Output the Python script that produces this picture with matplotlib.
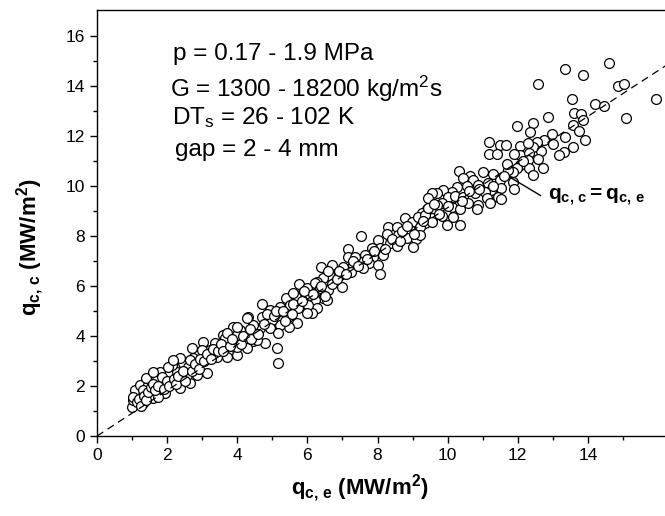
import matplotlib
matplotlib.use('Agg')
import matplotlib.pyplot as plt

plt.rcParams['font.family'] = ['Liberation Sans', 'DejaVu Sans']
plt.rcParams['mathtext.fontset'] = 'custom'
plt.rcParams['mathtext.rm'] = 'Liberation Sans'
plt.rcParams['mathtext.bf'] = 'Liberation Sans:bold'
plt.rcParams['mathtext.it'] = 'Liberation Sans:italic'

q_ce = [
    14.60, 13.35, 13.85, 12.57, 14.86, 15.04, 15.93, 13.54, 14.20, 14.46,
    15.10, 12.87, 13.61, 13.79, 13.85, 12.44, 13.58, 13.74, 12.98, 13.35,
    13.92, 12.76, 12.99, 13.58, 13.32, 13.18, 12.66, 12.54, 12.42, 12.58,
    12.35, 11.99, 12.71,
    11.18, 11.49, 11.66, 11.18, 11.42, 12.06, 12.30, 12.06, 12.32, 12.30,
    12.06, 12.33, 12.44, 11.99, 11.85, 11.73, 10.33, 10.64, 11.02, 11.28,
    10.45, 10.73, 11.49, 11.14, 10.87, 11.85, 11.90, 11.52, 11.23, 11.06,
    10.54, 10.26, 10.11, 9.86, 9.69, 9.54, 10.78, 11.44, 11.52, 10.02,
    10.21, 10.45, 11.11, 10.59, 10.87, 11.21, 9.83, 10.11, 10.35, 9.64,
    9.40, 9.26, 9.54, 9.83, 10.14, 10.35, 9.97, 9.35, 10.83,
    7.52, 8.31, 8.56, 8.78, 8.97, 9.16, 9.35, 9.45, 9.69, 9.54,
    9.21, 8.92, 8.59, 8.28, 8.35, 8.55, 8.83, 9.10, 9.00, 8.02,
    8.07, 7.83, 8.15, 7.86, 7.64, 7.55, 7.76, 8.02, 8.07, 7.17,
    7.17, 7.36, 7.29, 7.02, 7.23, 7.59, 6.69, 6.38, 6.93, 6.64,
    6.45, 6.26, 6.79, 6.98, 6.60, 6.31, 6.45, 6.22, 6.26, 6.12,
    9.21, 9.45,
    6.60, 5.77, 5.98, 6.22, 6.36, 6.07, 5.79, 6.57, 6.03, 5.39,
    5.67, 5.22, 5.50, 5.74, 5.98, 5.46, 5.71, 5.48, 5.22, 4.70,
    4.93, 4.70, 4.31, 4.98, 4.93, 5.17, 4.65, 4.46, 4.36, 4.08,
    3.89, 4.22, 4.46, 4.79, 5.12, 5.17, 3.98, 3.74, 3.60, 3.36,
    3.51, 3.74, 3.98, 3.22, 3.03, 3.08, 3.13,
    1.01, 1.04, 1.32, 1.13, 1.27, 1.08, 1.23, 1.46, 1.32, 1.51,
    1.61, 1.41, 1.70, 1.89, 1.94, 2.13, 2.37, 2.03, 2.27, 2.13,
    1.80, 1.61, 2.46, 2.60, 2.65, 2.56, 2.84, 2.37, 2.75, 2.98,
    2.70, 3.41, 3.65,
    1.04, 1.75, 2.03, 2.18, 2.65, 3.70, 3.98, 3.70, 3.98, 4.27,
    4.55, 4.27, 5.60,
    1.15, 1.20, 1.25, 1.35, 1.40, 1.45, 1.55, 1.60, 1.65, 1.75,
    1.85, 1.90, 2.00, 2.05, 2.20, 2.25, 2.30, 2.45, 2.50, 2.70,
    2.80, 2.90, 2.95, 3.05, 3.15, 3.25, 3.30, 3.45, 3.55, 3.60,
    3.80, 3.85, 4.10, 4.15, 4.35, 4.40, 4.60, 4.75, 4.85, 5.05,
    5.10, 5.30, 5.35, 5.55, 5.60, 5.85, 5.90, 6.15, 6.40, 6.50,
    6.70, 6.85, 6.90, 7.10, 7.30, 7.45, 7.70, 7.90, 8.20, 8.40,
    8.65, 8.70, 8.85, 9.05, 9.30, 9.60, 9.75, 10.00, 10.40, 10.60,
    10.90, 11.30, 11.60, 11.70, 12.15, 11.90,
]

# calculated heat flux q_c,c (MW/m2), same order as q_ce
q_cc = [
    14.93, 14.67, 14.44, 14.08, 14.00, 14.08, 13.47, 13.47, 13.28, 13.20,
    12.73, 12.75, 12.93, 12.89, 12.63, 12.53, 12.45, 12.19, 12.07, 11.97,
    11.83, 11.83, 11.69, 11.55, 11.37, 11.23, 11.41, 11.77, 11.57, 11.08,
    12.17, 12.40, 10.71,
    11.75, 11.64, 11.64, 11.28, 11.28, 11.60, 11.71, 11.24, 11.31, 11.04,
    10.84, 10.71, 10.44, 10.71, 10.57, 10.64, 10.60, 10.40, 10.57, 10.48,
    10.31, 10.24, 10.24, 10.11, 10.04, 10.15, 9.88, 9.91, 9.84, 9.77,
    10.00, 9.95, 9.77, 9.84, 9.71, 9.71, 9.71, 9.57, 9.47, 9.55,
    9.60, 9.57, 9.51, 9.31, 9.24, 9.31, 9.31, 9.17, 9.07, 9.04,
    9.07, 8.91, 8.71, 8.80, 8.77, 8.44, 8.44, 8.51, 9.08,
    8.00, 8.37, 8.37, 8.71, 8.55, 8.77, 8.84, 9.11, 9.24, 8.57,
    8.37, 8.24, 8.04, 8.07, 7.71, 7.61, 7.91, 7.88, 7.55, 7.84,
    7.51, 7.51, 7.24, 7.17, 7.24, 6.97, 6.91, 6.84, 6.47, 7.47,
    7.17, 7.17, 6.84, 6.77, 6.57, 6.71, 6.84, 6.77, 6.44, 6.41,
    6.31, 6.17, 6.17, 5.97, 5.84, 5.84, 5.51, 5.44, 5.11, 4.91,
    8.04, 9.51,
    6.60, 6.07, 5.91, 6.11, 5.91, 5.64, 5.64, 5.44, 5.24, 5.51,
    5.55, 5.17, 5.24, 5.11, 4.91, 4.77, 4.51, 4.37, 4.44, 5.27,
    5.04, 4.77, 4.77, 4.64, 4.31, 4.11, 4.31, 4.44, 4.11, 4.24,
    4.37, 3.84, 3.80, 3.71, 3.51, 2.93, 4.04, 3.77, 4.04, 3.71,
    3.51, 3.31, 3.24, 3.44, 3.77, 3.24, 2.51,
    1.17, 1.44, 1.31, 1.64, 1.71, 1.84, 2.04, 2.04, 1.84, 1.77,
    1.51, 2.31, 2.24, 2.04, 1.71, 2.11, 1.91, 2.51, 2.57, 2.84,
    2.57, 2.57, 2.91, 2.77, 2.11, 2.44, 2.44, 3.11, 3.11, 3.44,
    3.51, 3.17, 3.91,
    1.57, 1.57, 2.77, 3.04, 3.04, 4.11, 4.37, 3.17, 3.57, 3.51,
    3.84, 4.71, 5.71,
    1.35, 1.50, 1.20, 1.60, 1.45, 1.75, 1.95, 2.10, 1.85, 2.00,
    2.35, 1.90, 2.20, 2.00, 2.30, 2.10, 2.40, 2.60, 2.20, 2.60,
    2.90, 2.70, 3.10, 3.00, 3.30, 3.10, 3.50, 3.40, 3.70, 3.40,
    3.60, 3.90, 3.70, 4.00, 4.30, 3.90, 4.10, 4.50, 4.90, 4.80,
    5.00, 5.00, 4.60, 4.90, 5.30, 5.40, 5.80, 5.70, 6.00, 5.60,
    6.10, 6.30, 6.60, 6.50, 7.00, 6.80, 7.10, 7.40, 7.50, 7.90,
    7.80, 8.20, 8.40, 8.10, 8.60, 9.30, 8.90, 9.20, 9.40, 9.80,
    9.90, 10.00, 10.40, 10.90, 11.00, 11.30,
]

# reference line as drawn in the figure
ref_x = [0.0, 16.5]
ref_y = [0.0, 15.07]

x_ticks = [0, 2, 4, 6, 8, 10, 12, 14]
y_ticks = [0, 2, 4, 6, 8, 10, 12, 14, 16]

fig = plt.figure(figsize=(6.65, 5.16), dpi=100)
ax = fig.add_axes([0.1459, 0.155, 0.870, 0.8256])

ax.scatter(q_ce, q_cc, s=50, facecolors='white', edgecolors='black',
           linewidths=0.9, zorder=2)
ax.plot(ref_x, ref_y, color='black', lw=0.9, dashes=(6, 4), zorder=3)

ax.set_xlim(0, 16.5)
ax.set_ylim(0, 17.04)
ax.set_xticks(x_ticks)
ax.set_yticks(y_ticks)
ax.set_xticks(range(1, 16, 2), minor=True)
ax.set_yticks(range(1, 17, 2), minor=True)
ax.tick_params(which='both', direction='out', width=1, labelsize=12.5)
ax.tick_params(which='major', length=5)
ax.tick_params(which='minor', length=3)
for s in ax.spines.values():
    s.set_linewidth(1.0)

ax.set_xlabel(r'$\mathbf{q_{c,\,e}}$ (MW/m$^\mathbf{2}$)', fontsize=16,
              fontweight='bold')
ax.xaxis.set_label_coords(0.4545, -0.085)
ax.set_ylabel(r'$\mathbf{q_{c,\,c}}$ (MW/m$^\mathbf{2}$)', fontsize=16,
              fontweight='bold')
ax.yaxis.set_label_coords(-0.088, 0.444)

ax.text(2.17, 15.04, 'p = 0.17 - 1.9 MPa', fontsize=17.5, va='baseline')
ax.text(2.08, 13.56, r'G = 1300 - 18200 kg/m$^\mathrm{2}$s', fontsize=17.5,
        va='baseline')
ax.text(2.14, 12.48, r'DT$_\mathrm{s}$ = 26 - 102 K', fontsize=17.5,
        va='baseline')
ax.text(2.22, 11.2, 'gap = 2 - 4 mm', fontsize=17.5, va='baseline')

ax.annotate('', xy=(11.72, 10.4), xytext=(12.72, 9.56),
            arrowprops=dict(arrowstyle='-', color='black', lw=1))
ax.text(12.86, 9.56, r'$\mathbf{q_{c,\,c}=q_{c,\,e}}$', fontsize=15,
        va='center')

fig.savefig('out.png', dpi=100)
